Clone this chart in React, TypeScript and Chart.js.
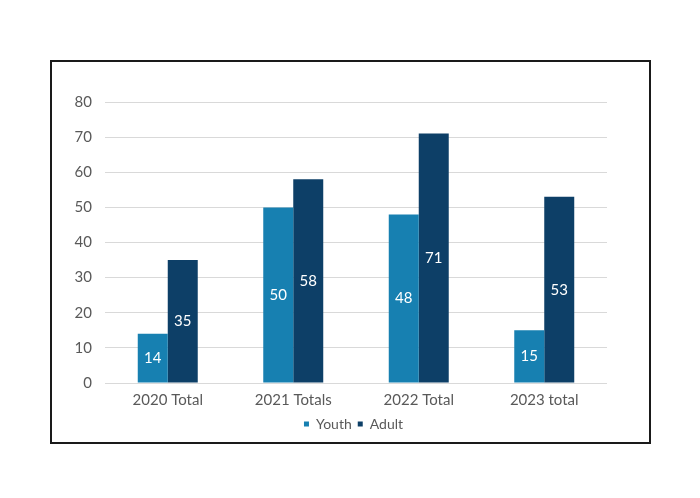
import React, { useEffect, useRef } from "react";
import { Chart, registerables } from "chart.js";

Chart.register(...registerables);

const categories = ["2020 Total", "2021 Totals", "2022 Total", "2023 total"];
const youthValues = [14, 50, 48, 15];
const adultValues = [35, 58, 71, 53];
const seriesNames = ["Youth", "Adult"];

const FONT = "Lato, 'Noto Sans', sans-serif";

const barLabels = {
  id: "barLabels",
  afterDatasetsDraw(chart: any) {
    const ctx = chart.ctx;
    ctx.save();
    ctx.fillStyle = "#ffffff";
    ctx.font = `15px ${FONT}`;
    ctx.textAlign = "center";
    ctx.textBaseline = "middle";
    chart.data.datasets.forEach((ds: any, i: number) => {
      const meta = chart.getDatasetMeta(i);
      meta.data.forEach((bar: any, j: number) => {
        const y = (bar.y + bar.base) / 2;
        ctx.fillText(String(ds.data[j]), bar.x, y);
      });
    });
    ctx.restore();
  },
};

const legendShift = {
  id: "legendShift",
  afterLayout(chart: any) {
    const l = chart.legend;
    if (l) {
      l.left += 20;
      l.right += 20;
    }
  },
};

export default function App() {
  const ref = useRef<HTMLCanvasElement | null>(null);
  useEffect(() => {
    if (!ref.current) return;
    const chart = new Chart(ref.current, {
      type: "bar",
      data: {
        labels: categories,
        datasets: [
          {
            label: seriesNames[0],
            data: youthValues,
            backgroundColor: "#1780B1",
            barPercentage: 1,
            categoryPercentage: 0.478,
          },
          {
            label: seriesNames[1],
            data: adultValues,
            backgroundColor: "#0D3F67",
            barPercentage: 1,
            categoryPercentage: 0.478,
          },
        ],
      },
      options: {
        animation: false,
        responsive: false,
        maintainAspectRatio: false,
        layout: { padding: { left: 60, right: 93, top: 102, bottom: 57 } },
        plugins: {
          tooltip: { enabled: false },
          legend: {
            position: "bottom",
            labels: {
              usePointStyle: true,
              pointStyle: "rect",
              boxWidth: 5,
              boxHeight: 5,
              padding: 6,
              color: "#595959",
              font: { family: FONT, size: 14 },
            },
          },
        },
        scales: {
          x: {
            afterFit: (s: any) => { s.height = 28; },
            grid: { display: false, drawTicks: false },
            border: { display: false },
            ticks: { color: "#595959", font: { family: FONT, size: 15 }, padding: 8 },
          },
          y: {
            min: 0,
            max: 80,
            afterFit: (s: any) => { s.width = 45; },
            grid: { color: "#d9d9d9", drawTicks: false, lineWidth: 1 },
            border: { display: false },
            ticks: { stepSize: 10, color: "#595959", font: { family: FONT, size: 15 }, padding: 13 },
          },
        },
      },
      plugins: [barLabels, legendShift],
    });
    return () => chart.destroy();
  }, []);
  return (
    <div style={{ position: "fixed", left: 0, top: 0, width: 700, height: 498, background: "#fff" }}>
      <div
        style={{
          position: "absolute",
          left: 50,
          top: 60,
          width: 597,
          height: 380,
          border: "2px solid #1a1a1a",
        }}
      />
      <canvas ref={ref} width={700} height={498} style={{ position: "absolute", left: 0, top: 0 }} />
    </div>
  );
}
